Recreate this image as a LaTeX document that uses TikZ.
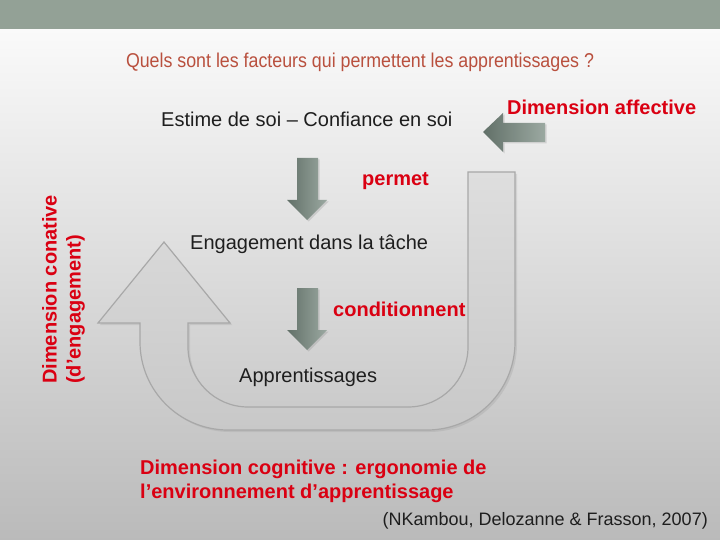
\documentclass[tikz,border=0pt]{standalone}
\usepackage{fontspec}
\setmainfont{Liberation Sans}
\newfontfamily\narrowfont[FakeStretch=0.89]{Liberation Sans}
\usetikzlibrary{shadows}
\definecolor{band}{RGB}{147,161,150}
\definecolor{redtxt}{RGB}{218,0,18}
\definecolor{titlec}{RGB}{185,80,62}
\definecolor{txt}{RGB}{30,30,30}
\definecolor{arrowg}{RGB}{122,140,130}
\definecolor{ufill}{RGB}{222,222,222}
\definecolor{ufillb}{RGB}{200,200,200}
\definecolor{uedge}{RGB}{168,168,168}
\begin{document}
\begin{tikzpicture}[x=1pt,y=-1pt,
  redlbl/.style={text=redtxt,font=\fontsize{20}{24}\selectfont\bfseries,inner sep=0pt},
  blacklbl/.style={text=txt,font=\fontsize{20}{24}\selectfont,inner sep=0pt},
  smallarrow/.style={left color=arrowg!80!black, right color=arrowg!75!white, draw=none,
     drop shadow={opacity=0.25,shadow xshift=1.5pt,shadow yshift=-1.5pt}},
  uarrow/.style={top color=ufill, bottom color=ufillb, draw=uedge, line width=1.2pt,
     drop shadow={opacity=0.18,shadow xshift=2pt,shadow yshift=-2pt}}]
\useasboundingbox (0,0) rectangle (720,540);
% background
\shade[top color=white!98!black, bottom color=black!27] (0,29) rectangle (720,540);
\fill[band] (0,0) rectangle (720,29);
% big U arrow
\path[uarrow] (468,172) -- (515,172) -- (515,342)
  .. controls (515,390.6) and (475.6,430) .. (427,430)
  -- (228,430)
  .. controls (179.4,430) and (140,390.6) .. (140,342)
  -- (140,323) -- (98,323) -- (164,242) -- (230,323) -- (188,323) -- (188,347)
  .. controls (188,380.1) and (214.9,407) .. (248,407)
  -- (408,407)
  .. controls (441.1,407) and (468,380.1) .. (468,347)
  -- cycle;
% small arrows
\path[smallarrow] (297,158) -- (318,158) -- (318,200) -- (327,200) -- (307,220) -- (287,200) -- (297,200) -- cycle;
\path[smallarrow] (297,288) -- (318,288) -- (318,330) -- (327,330) -- (307,350) -- (287,330) -- (297,330) -- cycle;
\path[smallarrow] (545,123) -- (545,142) -- (503,142) -- (503,152) -- (483,132) -- (503,113) -- (503,123) -- cycle;
% texts
\node[text=titlec,font=\narrowfont\fontsize{20}{24}\selectfont,inner sep=0pt] (title) at (360,62) {Quels sont les facteurs qui permettent les apprentissages ?};
\node[blacklbl,anchor=west] (estime) at (161,119) {Estime de soi – Confiance en soi};
\node[redlbl,anchor=west] (affect) at (507,107) {Dimension affective};
\node[redlbl,anchor=west] (permet) at (362,181) {permet};
\node[blacklbl,anchor=west] (engage) at (190,244) {Engagement dans la tâche};
\node[redlbl,anchor=west] (cond) at (333,309) {conditionnent};
\node[blacklbl,anchor=west] (appr) at (239,377) {Apprentissages};
\node[redlbl,anchor=north west,align=left] (cogn) at (140,460) {Dimension cognitive : ergonomie de\\l’environnement d’apprentissage};
\node[text=txt,font=\fontsize{18}{22}\selectfont,inner sep=0pt,anchor=east] (cite) at (708,521) {(NKambou, Delozanne \& Frasson, 2007)};
\node[redlbl,rotate=90,anchor=south west,align=left] (conat) at (85,384) {Dimension conative\\(d’engagement)};
\end{tikzpicture}
\end{document}
